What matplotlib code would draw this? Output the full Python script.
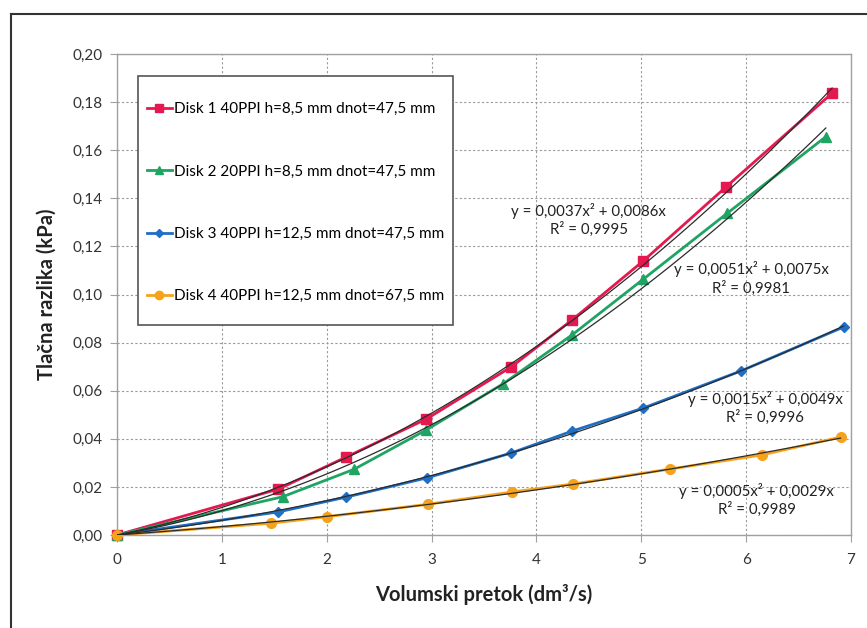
import matplotlib
matplotlib.use("Agg")
import matplotlib.pyplot as plt
from matplotlib.lines import Line2D
from matplotlib.patches import Rectangle
import numpy as np

plt.rcParams['font.family'] = ['Lato', 'DejaVu Sans']

disk1_x = [0, 1.54, 2.18, 2.95, 3.76, 4.34, 5.02, 5.81, 6.82]
disk1_y = [0, 0.0191, 0.0323, 0.0482, 0.0699, 0.0894, 0.1140, 0.1448, 0.1837]

disk2_x = [0, 1.58, 2.26, 2.95, 3.68, 4.34, 5.02, 5.82, 6.76]
disk2_y = [0, 0.0159, 0.0273, 0.0437, 0.0628, 0.0832, 0.1064, 0.1338, 0.1656]

disk3_x = [0, 1.54, 2.18, 2.96, 3.76, 4.34, 5.02, 5.95, 6.93]
disk3_y = [0, 0.0096, 0.0157, 0.0238, 0.0341, 0.0432, 0.0528, 0.0682, 0.0865]

disk4_x = [0, 1.47, 2.00, 2.97, 3.77, 4.35, 5.27, 6.15, 6.90]
disk4_y = [0, 0.0049, 0.0076, 0.0128, 0.0179, 0.0212, 0.0274, 0.0333, 0.0407]

labels = ['Disk 1 40PPI h=8,5 mm dnot=47,5 mm',
          'Disk 2 20PPI h=8,5 mm dnot=47,5 mm',
          'Disk 3 40PPI h=12,5 mm dnot=47,5 mm',
          'Disk 4 40PPI h=12,5 mm dnot=67,5 mm']

equations = ['y = 0,0037x\u00b2 + 0,0086x\nR\u00b2 = 0,9995',
             'y = 0,0051x\u00b2 + 0,0075x\nR\u00b2 = 0,9981',
             'y = 0,0015x\u00b2 + 0,0049x\nR\u00b2 = 0,9996',
             'y = 0,0005x\u00b2 + 0,0029x\nR\u00b2 = 0,9989']
# where the equation boxes sit (data coords)
eq_pos = [(4.5, 0.131), (6.05, 0.1067), (6.18, 0.0528), (6.1, 0.0146)]

colors = ['#e5194f', '#1fa463', '#1f6fc4', '#f5a31c']
markers = ['s', '^', 'D', 'o']
msizes = [7, 7, 5.5, 7]

series = [(disk1_x, disk1_y), (disk2_x, disk2_y),
          (disk3_x, disk3_y), (disk4_x, disk4_y)]

fig = plt.figure(figsize=(8.67, 6.28), dpi=100)
ax = fig.add_axes([117/867, 93/628, 734/867, 481/628])

handles = []
for (xs, ys), c, m, ms, lab in zip(series, colors, markers, msizes, labels):
    ax.plot(xs, ys, color=c, lw=2, marker=m, markersize=ms,
            markeredgecolor=c, zorder=3, clip_on=False)
    handles.append(Line2D([0], [0], color=c, lw=2, marker=m,
                          markersize=ms - 1, label=lab))
    # polynomial trendline through origin (like excel)
    xa = np.array(xs)
    ya = np.array(ys)
    A = np.vstack([xa**2, xa]).T
    coef = np.linalg.lstsq(A, ya, rcond=None)[0]
    xt = np.linspace(0, xa.max(), 100)
    ax.plot(xt, coef[0]*xt**2 + coef[1]*xt, color='#2b2b2b', lw=0.9, zorder=4)

for txt, (ex, ey) in zip(equations, eq_pos):
    ax.text(ex, ey, txt, ha='center', va='center', fontsize=10.8,
            color='#222222', linespacing=1.3, zorder=5)

ax.set_xlim(0, 7)
ax.set_ylim(0, 0.20)
ax.set_xticks(range(0, 8))
yt = np.arange(0, 0.201, 0.02)
ax.set_yticks(yt)
ax.set_yticklabels([('%.2f' % v).replace('.', ',') for v in yt])
ax.grid(True, linestyle=(0, (2, 2)), color='#9a9a9a', lw=0.8)
ax.set_axisbelow(True)
for s in ax.spines.values():
    s.set_color('#a0a0a0')
    s.set_linewidth(1)
ax.tick_params(axis='both', length=5, color='#a0a0a0', labelsize=11,
               labelcolor='#333333')
ax.tick_params(axis='y', pad=5)
ax.tick_params(axis='x', pad=8)

ax.set_xlabel('Volumski pretok (dm\u00b3/s)', fontsize=14.5, weight='bold',
              color='#222222', labelpad=12)
ax.set_ylabel('Tla\u010dna razlika (kPa)', fontsize=14.5, weight='bold',
              color='#222222', labelpad=12)

# legend frame drawn by hand so the padding can differ per side
ax.add_patch(Rectangle((21/734, 210/481), 315/734, 249/481,
                       transform=ax.transAxes, facecolor='white',
                       edgecolor='#555555', lw=1.2, zorder=6))
leg = ax.legend(handles=handles, loc='upper left',
                bbox_to_anchor=(30/734, 433/481), fontsize=11,
                frameon=False, labelspacing=3.17, handlelength=1.63,
                handletextpad=0.15, borderpad=0, borderaxespad=0)
leg.set_zorder(7)

# outer frame of the original figure (top and left edge)
fig.add_artist(Line2D([11/867, 11/867], [0, 1 - 14/628],
                      color='#333333', lw=1.5, transform=fig.transFigure))
fig.add_artist(Line2D([11/867, 1], [1 - 14/628, 1 - 14/628],
                      color='#333333', lw=1.5, transform=fig.transFigure))

fig.savefig('out.png', dpi=100)
